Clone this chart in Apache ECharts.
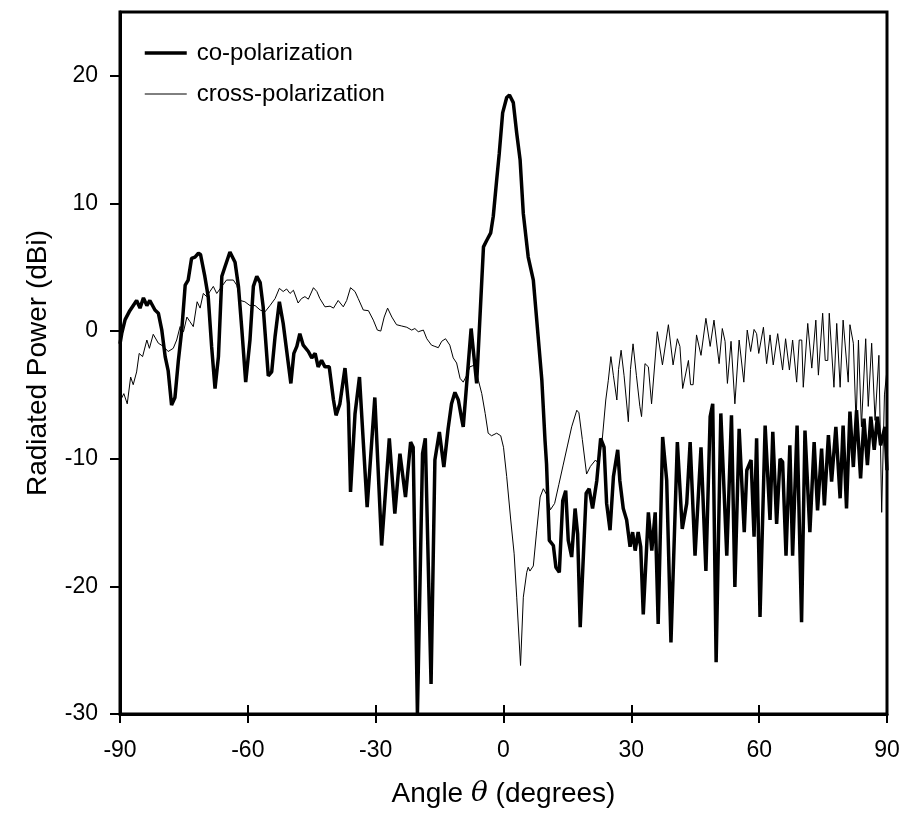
<!DOCTYPE html>
<html>
<head>
<meta charset="utf-8">
<script src="https://cdn.jsdelivr.net/npm/echarts@6/dist/echarts.min.js"></script>
<style>html,body{margin:0;padding:0;background:#fff}#c{width:905px;height:823px}</style>
</head>
<body>
<div id="c"></div>
<script>
const xTicks = [-90, -60, -30, 0, 30, 60, 90];
const yTicks = [-30, -20, -10, 0, 10, 20];

const coAngles = [-90,-89.6,-88.8,-87.7,-86.1,-85.3,-84.5,-83.7,-83.0,-81.8,-81.0,-80.2,-79.4,-78.7,-77.9,-77.1,-76.3,-75.5,-74.7,-74.0,-73.2,-72.4,-71.6,-71.1,-70.1,-69.3,-68.5,-67.7,-66.9,-66.1,-65.4,-64.2,-63.0,-62.2,-61.4,-60.5,-59.5,-58.7,-57.9,-57.1,-56.4,-55.2,-54.4,-53.6,-52.6,-51.7,-50.9,-49.9,-49.2,-48.5,-47.8,-47.0,-46.6,-45.8,-45.0,-44.2,-43.5,-42.7,-41.9,-40.9,-39.9,-39.3,-38.4,-37.2,-36.4,-35.9,-34.85,-33.8,-32.0,-30.2,-28.6,-26.8,-25.5,-24.3,-23.0,-21.8,-21.2,-20.2,-19.0,-18.35,-17.0,-16.1,-15.05,-14.0,-13.0,-12.2,-11.4,-11.0,-10.6,-9.8,-9.45,-7.6,-6.3,-4.7,-3.95,-3.0,-2.4,-1.6,-1.0,-0.2,0.75,1.4,2.3,3.1,3.9,4.65,5.8,7.0,8.2,9.0,9.75,10.1,10.75,11.7,12.3,13.1,13.9,14.6,15.2,16.0,16.8,17.4,18.0,19.4,20.1,20.9,21.9,22.8,23.6,24.2,25.0,25.8,26.8,27.3,28.1,28.9,29.7,30.3,30.9,31.6,32.2,32.8,34.0,34.8,35.6,36.3,37.35,38.3,39.3,40.8,41.95,43.0,43.8,44.95,46.35,47.5,48.5,49.1,49.9,51.0,52.4,53.5,54.3,55.3,56.5,57.1,58.1,58.8,59.4,60.2,61.4,62.55,63.2,64.1,64.9,65.5,66.3,67.2,67.85,68.9,69.95,70.75,71.9,72.9,73.7,74.65,75.3,76.25,77.0,78.0,79.0,79.7,80.5,81.3,82.1,82.85,83.8,84.6,85.4,86.2,87.0,87.75,88.5,89.5,90];
const coValues = [-1.0,-0.2,0.9,1.6,2.4,1.8,2.6,2.0,2.4,1.65,1.4,0.1,-2.0,-3.1,-5.8,-5.2,-2.3,0.1,3.6,4.0,5.7,5.8,6.1,6.0,4.3,2.7,-1.2,-4.5,-2.0,4.3,5.0,6.2,5.4,3.5,0.1,-4.0,-0.7,3.5,4.3,3.8,1.9,-3.5,-3.2,-0.4,2.3,0.6,-1.5,-4.1,-1.75,-1.2,-0.2,-1.1,-1.2,-1.6,-2.1,-1.75,-2.8,-2.3,-2.8,-2.8,-5.4,-6.6,-5.7,-2.9,-5.7,-12.6,-6.5,-3.6,-13.8,-5.2,-16.8,-8.4,-14.3,-9.6,-13.0,-8.7,-9.1,-30,-9.6,-8.4,-27.65,-10.1,-7.9,-10.65,-7.65,-5.7,-4.8,-4.9,-5.4,-6.9,-7.5,0.2,-4.1,6.6,7.1,7.7,9.0,11.85,13.9,17.1,18.3,18.5,17.9,15.5,13.4,9.2,5.8,4.0,-0.7,-3.85,-8.6,-10.4,-16.4,-16.8,-18.5,-18.9,-13.3,-12.5,-16.4,-17.7,-13.9,-15.9,-23.2,-12.7,-12.35,-13.9,-11.7,-8.4,-9.1,-13.5,-15.6,-11.4,-9.3,-11.7,-13.9,-14.8,-16.9,-15.75,-17.2,-15.75,-16.9,-22.2,-14.2,-17.2,-14.2,-22.95,-8.3,-11.7,-24.4,-8.7,-15.5,-13.5,-8.7,-17.6,-9.1,-18.8,-6.7,-5.7,-25.95,-6.45,-17.6,-6.6,-20.05,-7.65,-15.75,-10.9,-10.1,-16.1,-8.4,-22.4,-7.4,-14.8,-7.9,-15.1,-10.0,-10.25,-17.6,-8.95,-17.6,-7.4,-22.8,-7.8,-15.75,-8.7,-14.05,-9.2,-13.65,-8.15,-11.8,-7.5,-13.1,-7.4,-13.9,-6.3,-10.65,-6.2,-11.55,-6.85,-10.5,-6.7,-9.3,-6.7,-8.95,-7.5,-10.9];

const crossAngles = [-90,-89.6,-89.1,-88.3,-87.5,-86.9,-86.1,-85.5,-84.7,-83.7,-83.1,-82.2,-81.0,-79.8,-78.7,-77.5,-76.7,-75.9,-75.1,-74.3,-73.6,-72.8,-71.9,-71.2,-70.45,-69.65,-68.9,-68.1,-67.3,-66.1,-65.0,-63.4,-62.6,-61.8,-60.7,-59.5,-58.3,-57.1,-56.0,-54.8,-53.6,-52.6,-51.7,-50.9,-50.1,-49.3,-48.2,-47.4,-46.6,-45.8,-44.6,-43.8,-43.1,-41.9,-40.7,-39.9,-38.8,-37.6,-36.8,-35.9,-34.85,-34.1,-32.9,-31.7,-30.55,-29.6,-28.8,-28.0,-27.2,-26.2,-25.1,-23.9,-22.7,-21.55,-20.8,-20.0,-18.8,-18.0,-16.9,-16.1,-15.3,-14.5,-13.6,-12.6,-11.8,-11.0,-10.2,-9.45,-8.6,-7.9,-6.7,-5.9,-5.1,-4.3,-3.6,-2.8,-1.6,-0.65,0.0,0.75,1.7,2.5,3.1,4.0,4.65,5.45,5.8,6.2,7.0,7.8,8.6,9.35,10.1,11.0,12.0,13.0,14.0,15.0,16.0,17.2,17.7,18.5,19.5,20.4,21.6,22.3,23.2,24.0,24.6,25.2,25.8,26.6,27.0,27.6,28.3,29.3,29.8,30.4,31.2,32.0,32.4,33.2,34.0,34.75,36.1,37.3,38.7,39.8,40.8,41.4,42.05,42.3,43.4,43.9,44.5,45.3,46.35,47.5,48.5,49.4,50.6,51.35,52.0,52.55,53.4,54.3,55.3,56.4,57.2,58.0,58.8,59.4,59.9,61.0,61.75,62.55,63.3,64.35,65.5,66.2,67.1,67.85,68.8,69.4,70.0,70.35,71.4,72.35,73.3,73.9,74.9,75.5,76.1,76.45,77.55,78.2,79.0,79.7,80.9,81.3,82.1,82.75,83.3,84.0,85.0,85.6,86.4,87.2,88.1,88.75,89.4,90];
const crossValues = [-5.5,-5.4,-4.9,-5.7,-3.6,-4.2,-3.2,-1.75,-2.0,-0.7,-1.35,-0.25,-0.95,-1.2,-1.6,-1.35,-0.7,0.35,-0.05,1.1,0.75,0.35,2.3,1.8,2.95,2.7,3.1,3.5,2.95,3.5,4.0,4.0,3.6,2.4,2.3,2.0,2.0,1.65,1.5,2.0,2.55,3.35,3.1,3.3,2.95,3.2,2.2,2.55,2.7,2.5,3.4,3.1,2.55,1.9,1.95,1.8,2.4,1.9,2.4,3.4,3.1,2.55,1.65,1.6,0.86,0.08,0.0,1.1,1.8,1.1,0.5,0.4,0.3,0.08,0.2,-0.05,0.08,-0.6,-1.1,-1.2,-1.3,-0.8,-0.6,-1.1,-2.1,-2.5,-3.7,-4.0,-3.45,-2.8,-2.65,-3.85,-4.9,-6.45,-8.0,-8.2,-8.0,-8.2,-9.1,-11.4,-14.8,-17.45,-20.85,-26.2,-20.85,-18.9,-18.5,-18.8,-18.4,-15.6,-13.0,-12.35,-12.8,-14.0,-13.5,-12.0,-10.5,-9.0,-7.5,-6.2,-6.4,-8.5,-11.2,-10.6,-10.1,-10.4,-8.4,-5.4,-3.85,-2.0,-3.5,-5.4,-3.0,-1.5,-3.5,-7.1,-3.0,-1.0,-3.5,-5.9,-6.7,-2.55,-2.8,-5.7,-0.05,-2.65,0.5,-2.65,-0.6,-1.2,-4.5,-4.6,-2.3,-4.2,-4.2,-0.3,-1.9,1.0,-1.2,0.86,-2.55,0.2,-0.8,-4.1,-0.8,-5.7,-0.7,-4.0,0.08,-1.6,0.13,-0.2,-1.75,0.3,-2.55,-0.3,-2.65,-0.2,-3.05,-0.6,-3.05,-0.7,-4.0,-0.7,-0.7,-4.4,0.6,-2.9,0.86,-3.45,1.4,-2.3,-2.3,1.4,-4.4,0.6,-4.4,0.86,-4.0,0.5,-0.95,-7.25,-0.7,-7.5,-0.6,-5.9,-0.95,-7.0,-1.9,-14.2,-5.0,-3.0];

const zip = (a, b) => a.map((v, i) => [v, b[i]]);
const FONT = '"Liberation Sans", Arial, sans-serif';

const chart = echarts.init(document.getElementById('c'), null, {renderer: 'canvas'});
chart.setOption({
  animation: false,
  backgroundColor: '#fff',
  textStyle: {fontFamily: FONT, color: '#000'},
  grid: {left: 120, right: 18, top: 12, bottom: 109, show: true, borderColor: '#000', borderWidth: 3, backgroundColor: 'transparent'},
  legend: {
    orient: 'vertical', left: 138, top: 36, itemWidth: 42, itemHeight: 20, itemGap: 17,
    itemStyle: {opacity: 0},
    textStyle: {fontFamily: FONT, fontSize: 24, color: '#000', padding: [0, 0, 0, 5]},
    data: [
      {name: 'co-polarization', lineStyle: {color: '#000', width: 3.5}},
      {name: 'cross-polarization', lineStyle: {color: '#000', width: 1}}
    ]
  },
  xAxis: [{
    type: 'value', min: -90, max: 90, interval: 30,
    name: '{a|Angle }{b|θ}{a| (degrees)}', nameLocation: 'middle', nameGap: 66,
    nameTextStyle: {rich: {a: {fontFamily: FONT, fontSize: 28, color: '#000'}, b: {fontFamily: 'DejaVu Serif, serif', fontStyle: 'italic', fontSize: 28, color: '#000'}}},
    axisLine: {show: true, onZero: false, lineStyle: {color: '#000', width: 3}},
    axisTick: {show: true, inside: false, length: 9, lineStyle: {color: '#000', width: 2}},
    axisLabel: {show: true, margin: 25, fontFamily: FONT, fontSize: 23, color: '#000'},
    splitLine: {show: false}
  }, {
    type: 'value', min: -90, max: 90, interval: 30, position: 'top', offset: -702,
    axisLine: {show: false, onZero: false},
    axisTick: {show: true, inside: false, length: 9, lineStyle: {color: '#000', width: 2}},
    axisLabel: {show: false},
    splitLine: {show: false}
  }],
  yAxis: {
    type: 'value', min: -30, max: 25, interval: 10,
    name: 'Radiated Power (dBi)', nameLocation: 'middle', nameGap: 68,
    nameTextStyle: {fontFamily: FONT, fontSize: 28, color: '#000'},
    axisLine: {show: true, onZero: false, lineStyle: {color: '#000', width: 3}},
    axisTick: {show: true, inside: false, length: 10, customValues: yTicks, lineStyle: {color: '#000', width: 2}},
    axisLabel: {show: true, margin: 22, fontFamily: FONT, fontSize: 23, color: '#000', customValues: yTicks},
    splitLine: {show: false}
  },
  series: [{
    name: 'co-polarization', type: 'line', symbol: 'none', showSymbol: false,
    lineStyle: {color: '#000', width: 3.5}, itemStyle: {color: '#000'},
    data: zip(coAngles, coValues), z: 3
  }, {
    name: 'cross-polarization', type: 'line', symbol: 'none', showSymbol: false,
    lineStyle: {color: '#000', width: 1}, itemStyle: {color: '#000'},
    data: zip(crossAngles, crossValues), z: 2
  }]
});
</script>
</body>
</html>
